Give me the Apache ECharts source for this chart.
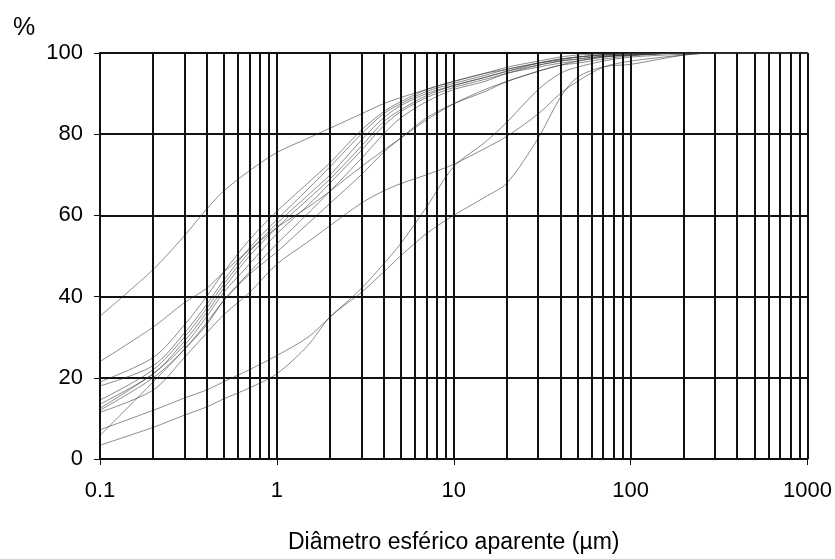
<!DOCTYPE html>
<html>
<head>
<meta charset="utf-8">
<script src="https://cdn.jsdelivr.net/npm/echarts@6/dist/echarts.min.js"></script>
<style>
html,body{margin:0;padding:0;background:#fff;}
#chart{width:835px;height:559px;}
</style>
</head>
<body>
<div id="chart"></div>
<script>
// Diameters (µm)
var diam = [0.1,0.2,0.3,0.4,0.5,0.7,1,1.5,2,3,4,5,7,10,15,20,30,40,50,70,100,200,300,1000];
// Cumulative % curves
var sA  = [35.2,46.7,55,61.5,66,71,75.5,79,81.5,85,87.5,89,91,93,95,96,97.5,98.3,99,99.5,99.8,100,100,100];
var sB  = [24,32.5,38.5,42,46,51.5,57,62,66,72,76,79,83.5,87.5,91,93,95.5,97,98,99,99.5,100,100,100];
var sC1 = [19,25,33,40,46,54,61,68,73,81,85.5,88,91,93,95,96.5,98,99,99.5,99.8,100,100,100,100];
var sC2 = [18,23,31,38,44,52,59,66.5,72,80,85,87.5,90.5,92.5,94.5,96,97.5,98.5,99,99.6,99.8,100,100,100];
var sC3 = [14.5,22,30,37,43,51,58,65,70,78.5,84,87,90,92,94,95.5,97.5,98.5,99,99.5,99.8,100,100,100];
var sC4 = [13.5,21,29,36,42,50,57,64,69,77,83,86,89.5,92,94,95.5,97,98,98.5,99.2,99.5,100,100,100];
var sC5 = [12.5,21,28,35,41,48,55.5,62.5,68,76,82,85.5,89,91.5,93.5,95,97,98,98.5,99.2,99.5,100,100,100];
var sC6 = [12,20,27,33,39,46,53,60.5,66,74,80,84,88,91,93,95,96.5,97.5,98,99,99.5,100,100,100];
var sC7 = [5.8,19,27,33.5,39,45.5,51,58,63,70,75.5,79,84,87.5,90.5,93,95.5,97,97.5,98.5,99.3,100,100,100];
var sG  = [11.5,17,25,31,35.5,41,48,53.5,57.5,63,66,67.8,70,72.6,76.5,79.5,85,90,93,96.5,98,99.5,100,100];
var sL1 = [3.4,7.8,10.8,12.8,14.8,17.5,21,28,35,41,46,50,55.5,60,64.5,68,79,89,94,96.6,97.2,99.5,100,100];
var sL2 = [7.2,12,15,17,19,22,25.5,30,35,42,48,53,62,72,78,83,91,95,96.5,98,99,99.7,100,100];

var curves = [sA,sB,sC1,sC2,sC3,sC4,sC5,sC6,sC7,sG,sL1,sL2];

// Axis ticks / grid
var xTickLabels = ['0.1','1','10','100','1000'];
var minorGrid = [0.2,0.3,0.4,0.5,0.6,0.7,0.8,0.9,2,3,4,5,6,7,8,9,20,30,40,50,60,70,80,90,200,300,400,500,600,700,800,900];

var FONT = 'Liberation Sans, Arial, sans-serif';

var series = curves.map(function (c) {
  return {
    type: 'line',
    data: diam.map(function (d, i) { return [d, c[i]]; }),
    smooth: 0.3,
    symbol: 'none',
    lineStyle: { color: '#333', width: 0.8, opacity: 0.7 },
    silent: true,
    z: 3
  };
});
series.push({
  type: 'line',
  data: [],
  markLine: {
    silent: true,
    symbol: 'none',
    label: { show: false },
    lineStyle: { color: '#111', width: 2, type: 'solid' },
    data: minorGrid.map(function (v) { return { xAxis: v }; })
  },
  z: 2
});

var chart = echarts.init(document.getElementById('chart'), null, { renderer: 'canvas' });
chart.setOption({
  animation: false,
  backgroundColor: '#fff',
  title: {
    text: '%', left: 8, top: 11,
    textStyle: { fontSize: 25, fontWeight: 'normal', color: '#000', fontFamily: FONT }
  },
  grid: { left: 100, right: 25, top: 53, bottom: 89, containLabel: false },
  xAxis: {
    type: 'log', logBase: 10, min: 0.1, max: 1000,
    name: 'Diâmetro esférico aparente (µm)',
    nameLocation: 'middle', nameGap: 72,
    nameTextStyle: { fontSize: 23, color: '#000', fontFamily: FONT },
    axisLine: { show: true, lineStyle: { color: '#111', width: 2 } },
    axisTick: { show: true, length: 6, lineStyle: { color: '#111', width: 1 } },
    axisLabel: {
      fontSize: 22, color: '#000', margin: 21,
      fontFamily: FONT,
      formatter: function (v) {
        var k = Math.round(Math.log10(v)) + 1;
        return xTickLabels[k] !== undefined ? xTickLabels[k] : '';
      }
    },
    splitLine: { show: true, lineStyle: { color: '#111', width: 2 } },
    minorTick: { show: false },
    minorSplitLine: { show: false }
  },
  yAxis: {
    type: 'value', min: 0, max: 100, interval: 20,
    axisLine: { show: true, lineStyle: { color: '#111', width: 2 } },
    axisTick: { show: true, length: 6, lineStyle: { color: '#111', width: 1 } },
    axisLabel: { fontSize: 22, color: '#000', margin: 17, fontFamily: FONT },
    splitLine: { show: true, lineStyle: { color: '#111', width: 2 } }
  },
  series: series
});
</script>
</body>
</html>
